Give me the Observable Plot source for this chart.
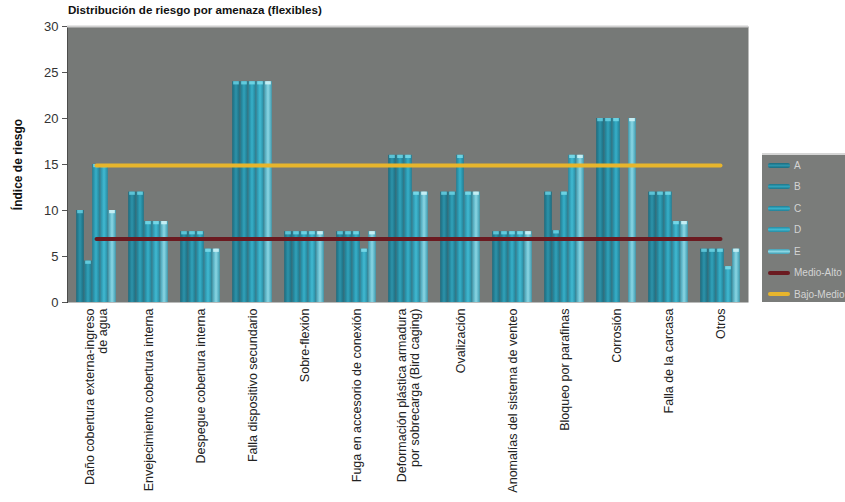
<!DOCTYPE html>
<html>
<head>
<meta charset="utf-8">
<script src="https://cdn.jsdelivr.net/npm/d3@7"></script>
<script src="https://cdn.jsdelivr.net/npm/@observablehq/plot@0.6"></script>
<style>
  html, body { margin: 0; padding: 0; background: #fff; }
  #wrap { position: relative; width: 845px; height: 502px; overflow: hidden; font-family: "Liberation Sans", Arial, sans-serif; }
  #title { position: absolute; left: 68px; top: 3px; font-size: 11.6px; font-weight: bold; color: #111; white-space: nowrap; }
  #chart { position: absolute; left: 0; top: 20px; }
  #legend { position: absolute; left: 762px; top: 153px; width: 100px; height: 149px; background: #7a7c7a; border-top: 2px solid #d6d6d6; box-sizing: border-box; }
  .li { position: absolute; left: 6px; height: 12px; display: flex; align-items: center; white-space: nowrap; }
  .sw { width: 22px; height: 5px; border-radius: 2px; margin-right: 4px; }
  .lt { font-size: 10px; color: #d4d4d4; }
</style>
</head>
<body>
<div id="wrap">
  <div id="title"></div>
  <div id="chart"></div>
  <div id="legend"></div>
</div>
<script>
const titleText = "Distribución de riesgo por amenaza (flexibles)";
const yLabel = "Índice de riesgo";
const categories = [
  "Daño cobertura externa-ingreso\nde agua",
  "Envejecimiento cobertura interna",
  "Despegue cobertura interna",
  "Falla dispositivo secundario",
  "Sobre-flexión",
  "Fuga en accesorio de conexión",
  "Deformación plástica armadura\npor sobrecarga (Bird caging)",
  "Ovalización",
  "Anomalías del sistema de venteo",
  "Bloqueo por parafinas",
  "Corrosión",
  "Falla de la carcasa",
  "Otros"
];
const seriesNames = ["A", "B", "C", "D", "E"];
const valuesA = [10, 12, 7.7, 24, 7.7, 7.7, 16, 12, 7.7, 12, 20, 12, 5.8];
const valuesB = [4.5, 12, 7.7, 24, 7.7, 7.7, 16, 12, 7.7, 7.8, 20, 12, 5.8];
const valuesC = [15, 8.8, 7.7, 24, 7.7, 7.7, 16, 16, 7.7, 12, 20, 12, 5.8];
const valuesD = [15, 8.8, 5.8, 24, 7.7, 5.8, 12, 12, 7.7, 16, null, 8.8, 3.9];
const valuesE = [10, 8.8, 5.8, 24, 7.7, 7.7, 12, 12, 7.7, 16, 20, 8.8, 5.8];
const thresholdNames = ["Medio-Alto", "Bajo-Medio"];
const thresholdValues = [6.9, 14.9];
const yTicks = [0, 5, 10, 15, 20, 25, 30];

const seriesValues = [valuesA, valuesB, valuesC, valuesD, valuesE];
const seriesEdge = ["#1c6b7e", "#1f7589", "#227f95", "#2889a0", "#3f9db2"];
const seriesMid  = ["#2c93aa", "#30a2ba", "#36b0c9", "#40bad2", "#8ad6e4"];
const capColor   = ["#5cc3d6", "#62cadc", "#6cd2e2", "#74d6e6", "#c4eef4"];
const thresholdColors = ["#6b1a20", "#e7b52c"];

const W = 845, H = 482, mL = 67, mR = 97, mT = 6, mB = 200;
const band = (W - mL - mR) / categories.length;
const bw = 8, pad = (band - 5 * bw) / 2;

const marks = [Plot.frame({fill: "#767977", stroke: null})];
seriesNames.forEach((s, i) => {
  const rows = categories.map((c, j) => ({cat: c, v: seriesValues[i][j]})).filter(d => d.v != null && d.v > 0);
  const il = pad + i * bw, ir = pad + (4 - i) * bw;
  marks.push(Plot.barY(rows, {x: "cat", y: "v", fill: `url(#grad${i})`, insetLeft: il, insetRight: ir}));
  marks.push(Plot.barY(rows, {x: "cat", y1: d => d.v - 0.35, y2: "v", fill: capColor[i], insetLeft: il + 1, insetRight: ir + 1}));
});
marks.push(Plot.ruleY([30], {stroke: "#d0d0d0", strokeWidth: 2}));
thresholdNames.forEach((t, k) => {
  marks.push(Plot.lineY(categories.map(c => ({cat: c, v: thresholdValues[k]})), {x: "cat", y: "v", stroke: thresholdColors[k], strokeWidth: 4}));
});

const svg = Plot.plot({
  width: W, height: H,
  marginLeft: mL, marginRight: mR, marginTop: mT, marginBottom: mB,
  style: {fontFamily: "'Liberation Sans', Arial, sans-serif", background: "transparent", color: "#222"},
  x: {domain: categories, padding: 0, label: null, tickRotate: -90, tickSize: 0, tickPadding: 6, fontSize: 12.5},
  y: {domain: [0, 30], ticks: yTicks, label: yLabel, labelArrow: false, labelAnchor: "center", labelOffset: 54, line: true, tickSize: 5, fontSize: 13},
  marks
});

let defs = "<defs>";
seriesNames.forEach((s, i) => {
  defs += `<linearGradient id="grad${i}" x1="0" x2="1" y1="0" y2="0">
    <stop offset="0" stop-color="${seriesEdge[i]}"/>
    <stop offset="0.5" stop-color="${seriesMid[i]}"/>
    <stop offset="1" stop-color="${seriesEdge[i]}"/></linearGradient>`;
});
defs += "</defs>";
svg.insertAdjacentHTML("afterbegin", defs);

svg.querySelectorAll("g[aria-label='y-axis tick label'] text").forEach(t => { t.setAttribute("font-size", 13); t.setAttribute("fill", "#333"); });
svg.querySelectorAll("g[aria-label='x-axis tick label']").forEach(g => g.setAttribute("font-size", 12.5));
svg.querySelectorAll("g[aria-label='y-axis label']").forEach(g => {
  g.setAttribute("font-weight", "bold"); g.setAttribute("font-size", 12); g.setAttribute("fill", "#111");
  g.querySelectorAll("text, tspan").forEach(t => { if (t.childNodes.length === 1 && t.firstChild.nodeType === 3) t.textContent = yLabel; });
});
svg.querySelectorAll("g[aria-label='y-axis line'], g[aria-label='y-axis tick']").forEach(g => { g.setAttribute("stroke", "#555"); });
svg.querySelectorAll("g[aria-label='y-axis line']").forEach(g => g.setAttribute("stroke-width", 2));

document.getElementById("chart").appendChild(svg);
document.getElementById("title").textContent = titleText;

const legend = document.getElementById("legend");
const items = seriesNames.map((s, i) => ({name: s, bg: `linear-gradient(${seriesEdge[i]}, ${seriesMid[i]}, ${seriesEdge[i]})`, h: 5}))
  .concat(thresholdNames.map((t, k) => ({name: t, bg: thresholdColors[k], h: 4})));
items.forEach((it, idx) => {
  const d = document.createElement("div");
  d.className = "li";
  d.style.top = (4 + idx * 21.5) + "px";
  d.innerHTML = `<div class="sw" style="background:${it.bg};height:${it.h}px"></div><span class="lt"></span>`;
  d.querySelector(".lt").textContent = it.name;
  legend.appendChild(d);
});
</script>
</body>
</html>
